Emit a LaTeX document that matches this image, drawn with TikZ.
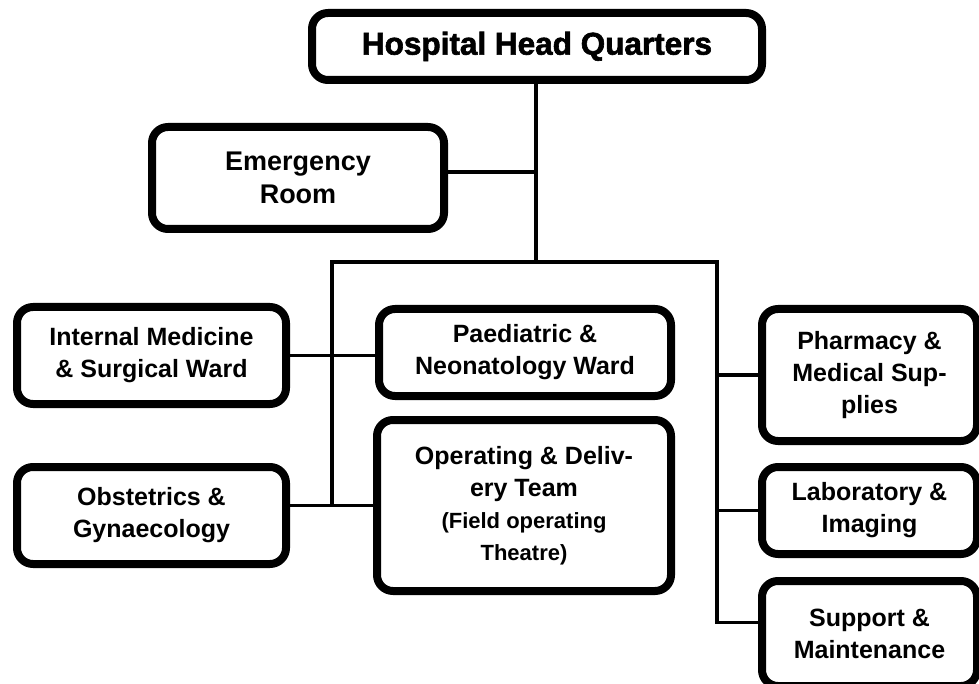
\documentclass[tikz,border=0pt]{standalone}
\usepackage{fontspec}
\setmainfont{Liberation Sans}
\newfontfamily\headfont[FakeBold=2]{Liberation Sans Bold}
\usepackage{tikz}

\begin{document}
\begin{tikzpicture}[x=1pt,y=-1pt,
        ward/.style={draw,line width=8pt,rounded corners=16pt,align=center,inner sep=0pt,
                font=\bfseries\fontsize{25}{32}\selectfont},
        link/.style={line width=3.5pt}]
        \useasboundingbox (0,0) rectangle (979,684);

        % top
        \node[ward,minimum width=450pt,minimum height=67pt,
                font=\headfont\fontsize{31.5}{36}\selectfont] (hq) at (537,46.5) {Hospital Head Quarters};
        \node[ward,minimum width=292pt,minimum height=102pt,
                font=\bfseries\fontsize{27}{33}\selectfont] (er) at (298,178) {Emergency\\Room};

        % middle column and left
        \node[ward,minimum width=269pt,minimum height=97pt] (im) at (151.5,355.5) {Internal Medicine\\\& Surgical Ward};
        \node[ward,minimum width=292pt,minimum height=87pt] (pn) at (525,352.5) {Paediatric \&\\Neonatology Ward};
        \node[ward,minimum width=294pt,minimum height=171pt] (od) at (524,505.5)
                {Operating \& Deliv-\\ery Team\\{\fontsize{22}{33}\selectfont (Field operating}\\{\fontsize{22}{33}\selectfont Theatre)}};
        \node[ward,minimum width=269pt,minimum height=97pt] (og) at (151.5,515.5) {Obstetrics \&\\Gynaecology};

        % right
        \node[ward,minimum width=215pt,minimum height=132pt] (ph) at (869.5,375) {Pharmacy \&\\Medical Sup-\\plies};
        \node[ward,minimum width=215pt,minimum height=87pt] (lab) at (869.5,510.5) {Laboratory \&\\Imaging};
        \node[ward,minimum width=215pt,minimum height=105pt] (sup) at (869.5,633.5) {Support \&\\Maintenance};

        \coordinate (bus) at (536,262);
        \coordinate (lbus) at (332,262);
        \coordinate (rbus) at (717,262);

        \draw[link] (hq.south -| bus) -- (bus);
        \draw[link] ([yshift=6pt]er.east) -- ([yshift=6pt]er.east -| bus);
        \draw[link] (lbus |- od.west) -- (lbus) -- (rbus) |- ([yshift=11pt]sup.west);
        \draw[link] (im.east) -- (im.east -| pn.west);
        \draw[link] (od.west) -- (od.west -| og.east);
        \draw[link] (rbus |- ph.west) -- (ph.west);
        \draw[link] (rbus |- lab.west) -- (lab.west);
\end{tikzpicture}
\end{document}
